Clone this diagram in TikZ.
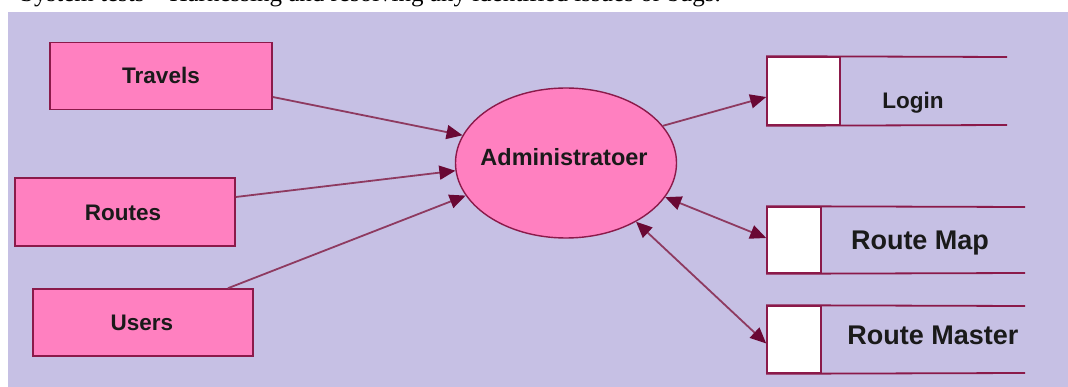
\documentclass[tikz,border=0pt]{standalone}
\usepackage{fontspec}
\setmainfont{Liberation Sans}
\newfontfamily\capfont{Liberation Serif}
\usetikzlibrary{shapes.geometric,arrows.meta,calc}
\definecolor{lav}{HTML}{C6C0E4}
\definecolor{pinkfill}{HTML}{FF80C0}
\definecolor{maroon}{HTML}{8B1A4A}
\definecolor{linec}{HTML}{8E3A60}
\definecolor{headc}{HTML}{6A0834}
\definecolor{txt}{HTML}{1A1A1A}
\tikzset{
  entity/.style={draw=maroon, line width=1.6pt, fill=pinkfill, rectangle, inner sep=0pt},
  storebox/.style={draw=maroon, line width=1.6pt, fill=white, rectangle, inner sep=0pt},
  proc/.style={draw=maroon, line width=1.4pt, fill=pinkfill, ellipse, inner sep=0pt, minimum width=221pt, minimum height=150pt},
  lbl/.style={text=txt, font=\bfseries, inner sep=0pt, anchor=center},
  storeline/.style={draw=maroon, line width=1.8pt},
  flow/.style={draw=linec, line width=1.8pt, -{Triangle[length=16pt,width=14pt,color=headc]}},
  dflow/.style={draw=linec, line width=1.8pt, {Triangle[length=16pt,width=14pt,color=headc]}-{Triangle[length=16pt,width=14pt,color=headc]}}
}
\begin{document}
\begin{tikzpicture}[x=1pt,y=-1pt]
\useasboundingbox (0,0) rectangle (1068,387);
\fill[white] (0,0) rectangle (1068,387);
\begin{scope}
\clip (0,0) rectangle (1068,12);
\node[anchor=base west, inner sep=0pt, text=black, font=\capfont\fontsize{25}{28}\selectfont] (cap) at (20,2) {System tests – Harnessing and resolving any identified issues or bugs.};
\end{scope}
\fill[lav] (8,12) rectangle (1068,387);

% external entities
\node[entity, minimum width=222pt, minimum height=67pt] (travels) at (161,76) {};
\node[entity, minimum width=220pt, minimum height=68pt] (routes) at (125,212) {};
\node[entity, minimum width=220pt, minimum height=67pt] (users) at (143,322.5) {};
\node[lbl, font=\bfseries\fontsize{22.5}{26}\selectfont] (tTravels) at (161,75) {Travels};
\node[lbl, font=\bfseries\fontsize{22.5}{26}\selectfont] (tRoutes) at (123,213) {Routes};
\node[lbl, font=\bfseries\fontsize{22.5}{26}\selectfont] (tUsers) at (142,323) {Users};

% process
\node[proc] (admin) at (566,163) {};
\node[lbl, font=\bfseries\fontsize{23.5}{27}\selectfont] (tAdmin) at (564,157) {Administratoer};

% data stores
\node[storebox, minimum width=73pt, minimum height=68pt] (login) at (803.5,91) {};
\draw[storeline] (login.north west) -- (1007,57);
\draw[storeline] (login.south west) -- (1007,125);
\node[lbl, font=\bfseries\fontsize{22.5}{26}\selectfont] (tLogin) at (913,103) {Login};

\node[storebox, minimum width=54pt, minimum height=66pt] (rmap) at (794,240) {};
\draw[storeline] (rmap.north west) -- (1025,207);
\draw[storeline] (rmap.south west) -- (1025,273);
\node[lbl, font=\bfseries\fontsize{27}{30}\selectfont] (tRmap) at (920,243) {Route Map};

\node[storebox, minimum width=54pt, minimum height=67pt] (rmaster) at (794,339.5) {};
\draw[storeline] (rmaster.north west) -- (1025,306);
\draw[storeline] (rmaster.south west) -- (1025,373);
\node[lbl, font=\bfseries\fontsize{27}{30}\selectfont] (tRmaster) at (933,335) {Route Master};

% flows
\draw[flow] ($(travels.east)+(0,21)$) -- (admin.165);
\draw[flow] ($(routes.east)+(0,-15)$) -- (admin.184);
\draw[flow] ($(users.north)+(85,0)$) -- (admin.198);
\draw[flow] (admin.21) -- ($(login.west)+(0,6)$);
\draw[dflow] (admin.341) -- ($(rmap.west)+(0,-2)$);
\draw[dflow] (admin.320) -- ($(rmaster.west)+(0,4)$);
\end{tikzpicture}
\end{document}
